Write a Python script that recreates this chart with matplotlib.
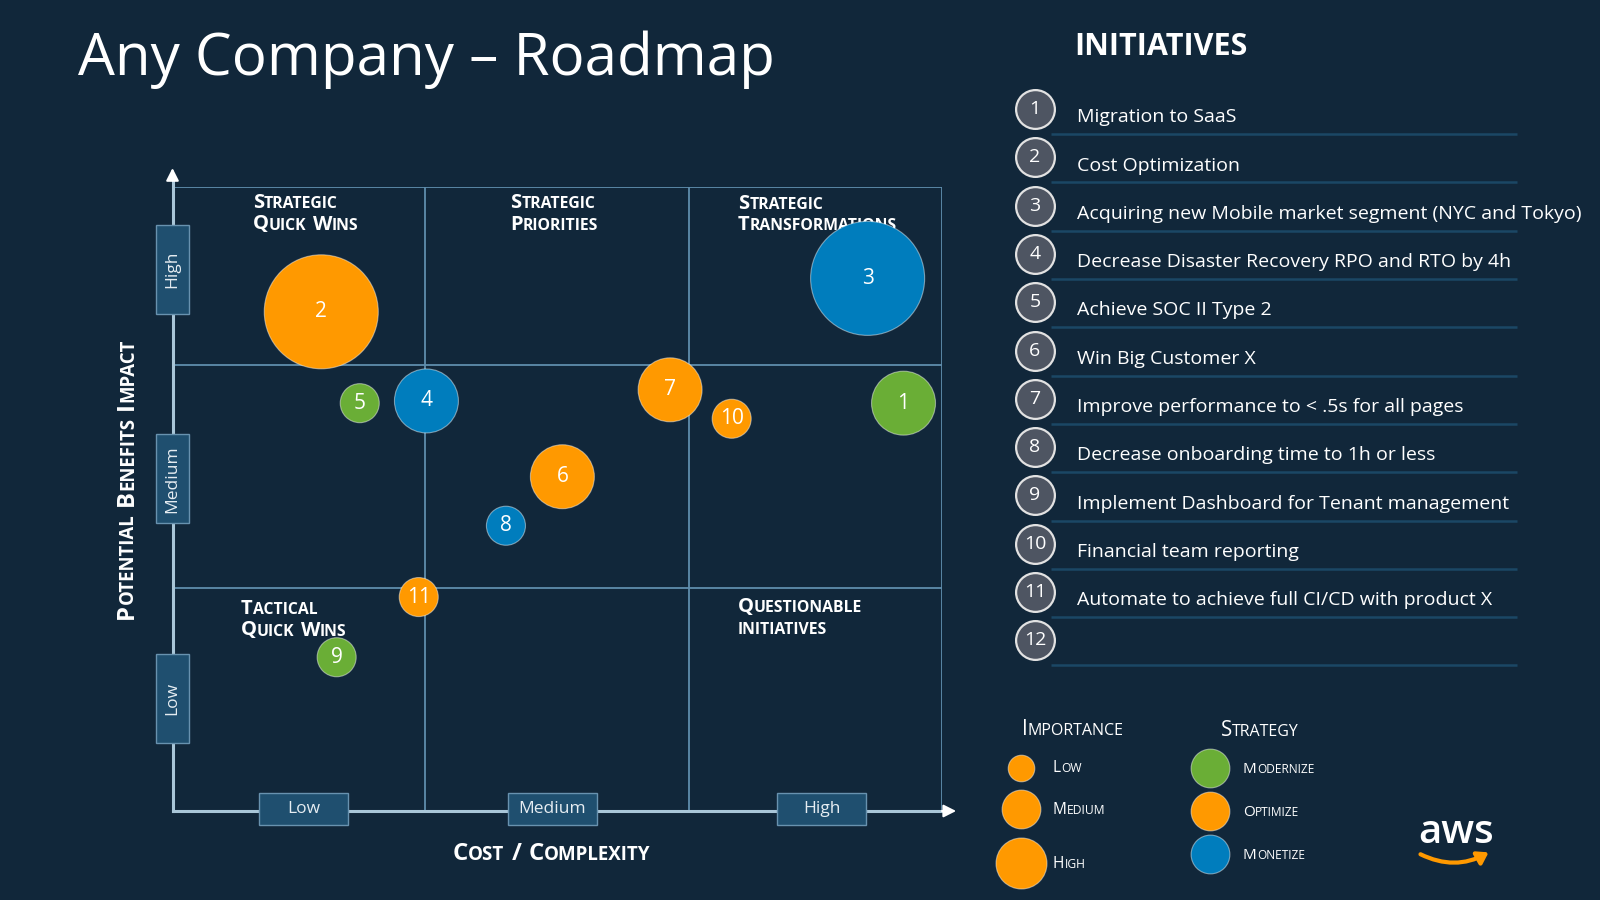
"""Any Company roadmap: cost vs. benefit bubble chart with initiative list."""

import re

import matplotlib

matplotlib.use("Agg")
import matplotlib.pyplot as plt
from matplotlib.patches import FancyArrowPatch, Rectangle


BG = "#11273A"
GRID = "#5F8DAD"
AXIS = "#A9C6D8"
BOX_FILL = "#1F4F6F"
BOX_EDGE = "#6892AF"
LINE = "#1B4765"
FONT = "Open Sans"
COLORS = {"Modernize": "#6AAE36", "Optimize": "#FF9900", "Monetize": "#007DBD"}
SIZES = {"Low": 790, "Medium": 2120, "High": 6740}

TITLE = "Any Company – Roadmap"
LEVELS = ["Low", "Medium", "High"]
STRATEGIES = ["Modernize", "Optimize", "Monetize"]

# bubble data: cost (0-3 bands) vs potential impact (0-2.8 bands)
IDS = [1, 2, 3, 4, 5, 6, 7, 8, 9, 10, 11]
COST = [2.85, 0.58, 2.71, 0.99, 0.73, 1.52, 1.94, 1.30, 0.64, 2.18, 0.96]
IMPACT = [1.83, 2.24, 2.39, 1.84, 1.83, 1.50, 1.89, 1.28, 0.69, 1.76, 0.96]
IMPORTANCE = ["Medium", "High", "High", "Medium", "Low", "Medium",
              "Medium", "Low", "Low", "Low", "Low"]
STRATEGY = ["Modernize", "Optimize", "Monetize", "Monetize", "Modernize", "Optimize",
            "Optimize", "Monetize", "Modernize", "Optimize", "Optimize"]

X_EDGES = [0, 0.985, 2.015, 3]
Y_EDGES = [0, 1, 2, 2.8]
X_TICKS = [0.51, 1.48, 2.53]
Y_TICKS = [0.505, 1.49, 2.43]

INITIATIVES = [
    "Migration to SaaS",
    "Cost Optimization",
    "Acquiring new Mobile market segment (NYC and Tokyo)",
    "Decrease Disaster Recovery RPO and RTO by 4h",
    "Achieve SOC II Type 2",
    "Win Big Customer X",
    "Improve performance to < .5s for all pages",
    "Decrease onboarding time to 1h or less",
    "Implement Dashboard for Tenant management",
    "Financial team reporting",
    "Automate to achieve full CI/CD with product X",
    "",
]

# (lines, x px, first baseline px)
QUADRANTS = [
    (["Strategic", "Quick Wins"], 253, 208),
    (["Strategic", "Priorities"], 510, 208),
    (["Strategic", "Transformations"], 738, 209),
    (["Tactical", "Quick Wins"], 241, 614),
    (["Questionable", "initiatives"], 738, 612),
]


def small_caps(ax, x, y, text, size, ratio=0.78, rotation=0, weight="bold", color="white", zorder=3):
    """Fake small caps: lowercase runs are upper-cased at a smaller size and chained."""
    pieces = []
    for wi, word in enumerate(text.split(" ")):
        for ri, run in enumerate(re.findall(r"[a-z]+|[^a-z]+", word)):
            s = size * ratio if run[0].islower() else size
            pieces.append((run.upper(), s, wi > 0 and ri == 0))
    style = dict(color=color, family=FONT, weight=weight, zorder=zorder,
                 ha="left", va="baseline")
    if rotation:
        style.update(rotation=90, rotation_mode="anchor")
    prev = None
    for txt, s, gap in pieces:
        g = 0.3 * size if gap else 0
        if prev is None:
            prev = ax.text(x, y, txt, fontsize=s, **style)
        elif rotation:
            prev = ax.annotate(txt, xy=(x, 1), xycoords=("data", prev), xytext=(0, g),
                               textcoords="offset points", fontsize=s, **style)
        else:
            prev = ax.annotate(txt, xy=(1, y), xycoords=(prev, "data"), xytext=(g, 0),
                               textcoords="offset points", fontsize=s, **style)
    return prev


def main() -> None:
    fig = plt.figure(figsize=(16, 9), dpi=100, facecolor=BG)

    # full-figure layer in pixel coordinates for titles and legend
    bg = fig.add_axes([0, 0, 1, 1], zorder=0)
    bg.set_xlim(0, 1600)
    bg.set_ylim(900, 0)
    bg.axis("off")

    bg.text(78, 75, TITLE, fontsize=42, color="white", family=FONT, va="baseline")
    bg.text(1074, 55, "INITIATIVES", fontsize=22, color="white", family=FONT,
            weight="bold", va="baseline")

    for lines, qx, qy in QUADRANTS:
        for k, line in enumerate(lines):
            small_caps(bg, qx, qy + k * 21.5, line, 14.5)

    small_caps(bg, 133, 619, "Potential Benefits Impact", 17.2, rotation=90)
    small_caps(bg, 453, 860, "Cost / Complexity", 17.3)

    # main quadrant chart
    ax = fig.add_axes([172.5 / 1600, 89 / 900, 769.5 / 1600, 624 / 900], zorder=1)
    ax.set_facecolor("none")
    ax.set_xlim(X_EDGES[0], X_EDGES[-1])
    ax.set_ylim(Y_EDGES[0], Y_EDGES[-1])
    ax.axis("off")

    for xv in X_EDGES[1:]:
        ax.plot([xv, xv], [Y_EDGES[0], Y_EDGES[-1]], color=GRID, lw=1.3, zorder=1)
    for yv in Y_EDGES[1:]:
        ax.plot([X_EDGES[0], X_EDGES[-1]], [yv, yv], color=GRID, lw=1.3, zorder=1)

    ax.plot([0, 0], [0, 2.84], color=AXIS, lw=2.2, zorder=2, clip_on=False)
    ax.plot([0, 3.01], [0, 0], color=AXIS, lw=2.2, zorder=2, clip_on=False)
    head = dict(arrowstyle="-|>,head_length=0.75,head_width=0.38", color="white",
                lw=1.5, shrinkA=0, shrinkB=0)
    ax.annotate("", xy=(0, 2.885), xytext=(0, 2.83), arrowprops=head, annotation_clip=False)
    ax.annotate("", xy=(3.055, 0), xytext=(3.0, 0), arrowprops=head, annotation_clip=False)

    bw, bh = 0.347, 0.144
    for cx, lab in zip(X_TICKS, LEVELS):
        ax.add_patch(Rectangle((cx - bw / 2, 0.011 - bh / 2), bw, bh, facecolor=BOX_FILL,
                               edgecolor=BOX_EDGE, lw=1, zorder=3, clip_on=False))
        ax.text(cx, 0.011, lab, ha="center", va="center", fontsize=12.5, color="#E6EDF2",
                family=FONT, zorder=4)
    vw, vh = 0.125, 0.399
    for cy, lab in zip(Y_TICKS, LEVELS):
        ax.add_patch(Rectangle((-vw / 2, cy - vh / 2), vw, vh, facecolor=BOX_FILL,
                               edgecolor=BOX_EDGE, lw=1, zorder=3, clip_on=False))
        ax.text(0, cy, lab, ha="center", va="center", rotation=90, fontsize=12.5,
                color="#E6EDF2", family=FONT, zorder=4)

    ax.scatter(COST, IMPACT, s=[SIZES[v] for v in IMPORTANCE],
               c=[COLORS[v] for v in STRATEGY], edgecolors=(1, 1, 1, 0.45),
               linewidths=0.8, zorder=5, clip_on=False)
    for n, x, y in zip(IDS, COST, IMPACT):
        ax.text(x, y, str(n), ha="center", va="center", fontsize=15, color="white",
                family=FONT, zorder=6)

    # initiative list, one row per item
    rows = list(range(1, len(INITIATIVES) + 1))
    lst = fig.add_axes([1000 / 1600, 1 - 664.5 / 900, 560 / 1600, 579.6 / 900], zorder=1)
    lst.set_facecolor("none")
    lst.set_xlim(1000, 1560)
    lst.set_ylim(len(INITIATIVES) + 0.5, 0.5)
    lst.axis("off")
    lst.hlines([r + 0.52 for r in rows], 1051, 1517, color=LINE, lw=1.8, clip_on=False)
    lst.scatter([1035] * len(rows), rows, s=780, c="#4E5562", edgecolors="#E2E2E2",
                linewidths=1.6, zorder=3, clip_on=False)
    for r, label in zip(rows, INITIATIVES):
        lst.text(1035, r, str(r), ha="center", va="center", fontsize=14, color="white",
                 family=FONT, zorder=4)
        lst.text(1077, r + 0.17, label, ha="left", va="center", fontsize=14, color="white",
                 family=FONT)

    # legends
    small_caps(bg, 1022, 735, "Importance", 14.8, weight="normal")
    small_caps(bg, 1221, 736, "Strategy", 14.8, weight="normal")
    radii = [13.3, 19.4, 25.5]
    cy = 767.5
    for i, lab in enumerate(LEVELS):
        if i:
            cy += radii[i - 1] + 9 + radii[i]
        bg.scatter([1020.5], [cy], s=(2 * radii[i] * 0.72) ** 2, c=COLORS["Optimize"],
                   edgecolors=(1, 1, 1, 0.45), linewidths=0.8)
        small_caps(bg, 1053, cy + 5, lab, 11.2, weight="normal")
    for i, lab in enumerate(STRATEGIES):
        cy = 767.5 + i * 43
        bg.scatter([1210], [cy], s=780, c=COLORS[lab], edgecolors=(1, 1, 1, 0.45),
                   linewidths=0.8)
        small_caps(bg, 1243, cy + 5.5, lab, 11, weight="normal")

    # aws logo
    bg.text(1456, 843, "aws", ha="center", va="baseline", fontsize=29, color="white",
            family=FONT, weight="semibold")
    bg.add_patch(FancyArrowPatch((1418, 853), (1491, 851), connectionstyle="arc3,rad=0.28",
                                 arrowstyle="-|>,head_length=0.45,head_width=0.3",
                                 mutation_scale=14, color="#FF9900", lw=3))

    fig.savefig("out.png", dpi=100, facecolor=BG)
    plt.close(fig)


if __name__ == "__main__":
    main()
